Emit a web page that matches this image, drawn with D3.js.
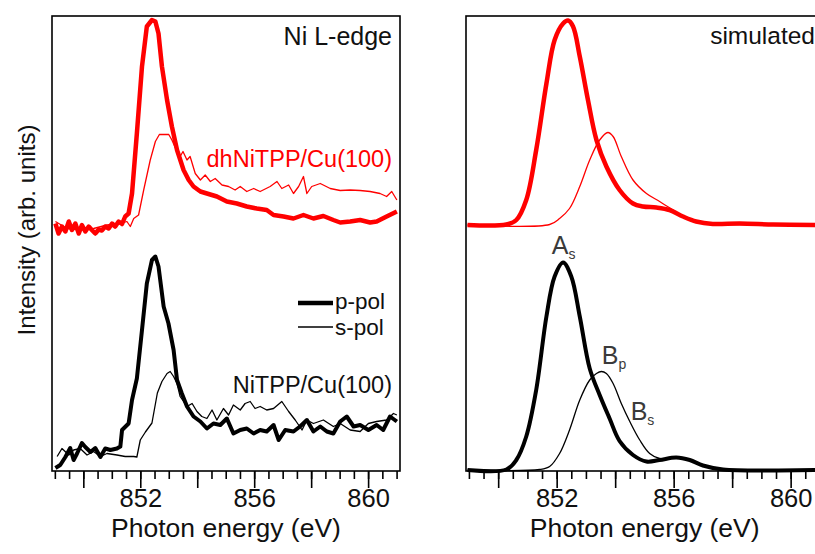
<!DOCTYPE html>
<html>
<head>
<meta charset="utf-8">
<script src="https://cdn.jsdelivr.net/npm/d3@7"></script>
<style>
  body { margin: 0; background: #fff; }
  svg { display: block; }
</style>
</head>
<body>
<div id="chart"></div>
<script>
// measured Ni L-edge spectra: photon energy (eV) / intensity (arb. units, offset included)
var dhP_E = [849.02,849.13,849.25,849.37,849.49,849.60,849.72,849.84,849.95,850.07,850.19,850.30,850.42,850.54,850.65,850.77,850.89,851.01,851.12,851.24,851.36,851.47,851.59,851.71,851.88,852.06,852.23,852.41,852.53,852.64,852.76,852.94,853.11,853.29,853.52,853.70,853.87,854.11,854.34,854.69,855.04,855.39,855.74,856.09,856.44,856.68,857.03,857.38,857.73,858.08,858.43,858.78,859.02,859.37,859.72,860.07,860.30,860.65,861.01];
var dhP_I = [49.5,47.5,48.9,47.9,49.9,48.2,49.5,47.5,49.2,47.9,48.9,48.2,47.5,48.3,48.1,48.9,48.5,49.5,48.9,49.9,49.4,50.9,51.5,55.5,67.5,80.9,88.9,90.2,89.9,87.5,80.9,74.2,68.9,64.2,60.2,58.2,56.9,55.9,55.5,54.9,53.9,53.5,52.9,52.5,52.2,51.2,50.9,50.5,51.2,50.5,51.0,50.2,49.7,49.9,50.2,49.7,49.9,50.9,51.9];

var dhS_E = [849.02,849.43,849.89,850.36,850.83,851.30,851.53,851.65,851.77,851.94,852.12,852.35,852.53,852.67,853.00,853.11,853.29,853.40,853.50,853.64,853.75,853.93,854.11,854.28,854.46,854.63,854.87,855.10,855.33,855.51,855.74,855.98,856.21,856.56,856.80,856.97,857.21,857.38,857.56,857.73,857.85,858.02,858.32,858.67,859.02,859.37,859.72,860.07,860.42,860.65,860.83,861.01];
var dhS_I = [49.9,48.5,48.2,48.5,49.2,49.5,49.9,48.9,50.5,51.2,56.2,62.2,65.9,67.3,67.3,66.2,63.9,62.9,63.9,62.2,62.9,59.5,58.2,59.2,57.9,58.5,57.2,56.9,56.2,56.9,55.9,56.5,55.9,56.9,57.9,56.5,57.2,55.5,56.9,58.9,55.5,56.9,57.5,56.5,56.1,56.2,56.1,55.9,55.5,54.9,55.9,54.2];

var niP_E = [849.02,849.19,849.37,849.54,849.66,849.78,849.95,850.07,850.25,850.42,850.60,850.77,850.95,851.18,851.30,851.36,851.59,851.71,851.88,852.06,852.23,852.41,852.53,852.64,852.82,852.99,853.17,853.29,853.46,853.64,853.87,854.11,854.34,854.57,854.81,855.04,855.27,855.51,855.74,855.98,856.21,856.44,856.68,856.86,857.09,857.38,857.61,857.85,858.08,858.32,858.55,858.78,859.02,859.25,859.49,859.72,860.01,860.30,860.53,860.77,861.01];
var niP_I = [0.6,1.2,2.8,4.6,2.2,3.5,5.6,4.8,3.8,4.6,2.8,4.5,4.2,4.5,4.9,8.2,9.5,14.2,18.5,28.2,37.5,42.2,42.9,40.9,32.9,29.5,24.2,18.2,15.5,12.9,10.9,9.9,8.5,9.5,9.2,10.5,7.5,8.2,8.5,7.5,8.2,7.9,9.2,6.2,8.2,7.9,8.9,10.2,7.9,8.9,7.9,7.5,9.9,10.9,8.9,9.2,8.2,9.2,8.2,10.9,9.9];

var niS_E = [849.08,849.25,849.49,849.66,849.89,850.13,850.36,850.60,850.83,851.18,851.47,851.77,851.88,852.00,852.18,852.41,852.60,852.76,852.94,853.05,853.17,853.29,853.40,853.64,853.82,853.99,854.16,854.34,854.52,854.69,854.92,855.10,855.27,855.51,855.68,855.86,856.03,856.21,856.44,856.68,856.97,857.21,857.44,857.68,857.85,858.08,858.43,858.78,859.02,859.37,859.72,860.01,860.30,860.65,860.89,861.01];
var niS_I = [2.9,4.5,3.2,4.2,4.5,3.2,3.9,2.9,3.5,3.2,2.9,2.9,2.8,6.2,7.8,9.6,15.6,17.9,19.5,19.9,18.9,17.5,14.9,12.9,13.5,11.9,10.9,10.5,12.2,10.2,12.5,11.2,13.2,12.2,13.5,13.9,12.5,12.9,12.2,12.5,13.9,11.9,10.2,8.2,10.2,9.5,10.2,8.9,9.5,8.2,7.9,9.5,9.9,10.2,11.5,11.2];

// simulated spectra
var simRedP_E = [848.95,850.28,850.62,850.96,851.30,851.65,851.93,852.22,852.39,852.56,852.79,853.07,853.36,853.70,854.15,854.61,854.95,855.41,855.86,856.32,856.77,857.34,858.26,859.40,860.82,861.12];
var simRedP_I = [49.2,49.3,50.2,54.2,64.2,77.5,86.2,89.5,90.1,88.9,82.9,74.2,66.2,60.9,56.2,53.5,52.9,52.7,52.2,50.9,49.9,49.4,49.5,49.3,49.2,49.2];
var simRedS_E = [848.95,851.76,852.10,852.44,852.79,853.13,853.47,853.75,853.93,854.21,854.61,855.07,855.52,855.98,856.43,857.12,858.26,860.82,861.12];
var simRedS_I = [49.2,49.3,50.5,52.5,56.9,62.2,66.2,67.7,66.9,62.9,58.2,55.5,53.9,52.2,50.5,49.5,49.3,49.2,49.2];
var simBlkP_E = [848.95,850.28,850.62,850.96,851.30,851.65,851.93,852.22,852.50,852.79,853.13,853.47,853.81,854.15,854.61,855.07,855.52,856.09,856.55,857.00,857.69,860.82,861.12];
var simBlkP_I = [0.2,0.3,2.2,6.9,16.2,30.9,38.9,41.7,38.9,30.9,20.5,15.2,10.5,6.0,3.2,1.9,2.2,2.7,2.2,1.1,0.3,0.2,0.2];
var simBlkS_E = [848.95,851.42,851.76,852.10,852.44,852.79,853.13,853.36,853.53,853.70,853.93,854.21,854.50,854.84,855.18,855.52,856.09,856.55,857.00,857.69,860.82,861.12];
var simBlkS_I = [0.2,0.3,0.9,3.5,8.2,14.2,18.2,19.5,19.9,19.5,17.5,13.5,9.9,6.2,3.5,2.5,2.7,2.2,1.1,0.3,0.2,0.2];

var majorTicks = [850, 852, 854, 856, 858, 860];
var tickLabels = [852, 856, 860];
var minorTicks = d3.range(1698, 1723).map(function (d) { return d / 2; });

var W = 815, H = 554;
var red = "#ff0000";
var font = "'Liberation Sans', Arial, sans-serif";

var svg = d3.select("#chart").append("svg")
  .attr("width", W)
  .attr("height", H)
  .style("font-family", font);

var y = d3.scaleLinear().domain([0, 91]).range([471, 16]);

function toPts(E, I) {
  return E.map(function (e, i) { return [e, I[i]]; });
}

function drawPanel(left, right, series, curve) {
  var x = d3.scaleLinear().domain([848.9, 861.12]).range([left, right]);
  var g = svg.append("g");

  var line = d3.line()
    .x(function (d) { return x(d[0]); })
    .y(function (d) { return y(d[1]); })
    .curve(curve);

  series.forEach(function (s) {
    g.append("path")
      .datum(toPts(s.E, s.I))
      .attr("d", line)
      .attr("fill", "none")
      .attr("stroke", s.color)
      .attr("stroke-width", s.width)
      .attr("stroke-linejoin", "round");
  });

  g.append("rect")
    .attr("x", left).attr("y", 16)
    .attr("width", right - left).attr("height", 455)
    .attr("fill", "none").attr("stroke", "#000").attr("stroke-width", 1.6);

  var minorAxis = d3.axisBottom(x).tickValues(minorTicks).tickSize(8).tickFormat("").tickSizeOuter(0);
  var majorAxis = d3.axisBottom(x).tickValues(majorTicks).tickSize(17).tickPadding(1).tickSizeOuter(0)
    .tickFormat(function (d) { return tickLabels.indexOf(d) >= 0 ? d : ""; });

  [minorAxis, majorAxis].forEach(function (ax) {
    var a = g.append("g").attr("transform", "translate(0,471)").call(ax);
    a.select(".domain").remove();
    a.selectAll("line").attr("stroke-width", 1.6);
    a.selectAll("text").attr("font-size", 25.5).attr("font-family", font).attr("fill", "#111");
  });

  g.append("text")
    .attr("x", (left + right) / 2).attr("y", 537)
    .attr("text-anchor", "middle")
    .attr("font-size", 26.5).attr("fill", "#111")
    .text("Photon energy (eV)");

  return { x: x, g: g };
}

// left: measured
var L = drawPanel(52, 400, [
  { E: dhS_E, I: dhS_I, color: red, width: 1.3 },
  { E: dhP_E, I: dhP_I, color: red, width: 4.5 },
  { E: niS_E, I: niS_I, color: "#000", width: 1.3 },
  { E: niP_E, I: niP_I, color: "#000", width: 4 }
], d3.curveLinear);

L.g.append("text").attr("x", 392).attr("y", 45).attr("text-anchor", "end")
  .attr("font-size", 25).attr("fill", "#111").text("Ni L-edge");
L.g.append("text").attr("x", 392).attr("y", 167).attr("text-anchor", "end")
  .attr("font-size", 23.5).attr("fill", red).text("dhNiTPP/Cu(100)");
L.g.append("text").attr("x", 392).attr("y", 393).attr("text-anchor", "end")
  .attr("font-size", 23.5).attr("fill", "#111").text("NiTPP/Cu(100)");

// legend
var legend = [{ label: "p-pol", width: 4.5, y: 303, dy: 6 }, { label: "s-pol", width: 1.3, y: 327, dy: 8 }];
legend.forEach(function (d) {
  L.g.append("line").attr("x1", 298).attr("x2", 333).attr("y1", d.y).attr("y2", d.y)
    .attr("stroke", "#000").attr("stroke-width", d.width);
  L.g.append("text").attr("x", 335).attr("y", d.y + d.dy).attr("font-size", 22.5)
    .attr("fill", "#111").text(d.label);
});

// right: simulated
var R = drawPanel(466, 823.4, [
  { E: simRedS_E, I: simRedS_I, color: red, width: 1.3 },
  { E: simRedP_E, I: simRedP_I, color: red, width: 4.5 },
  { E: simBlkS_E, I: simBlkS_I, color: "#000", width: 1.3 },
  { E: simBlkP_E, I: simBlkP_I, color: "#000", width: 4 }
], d3.curveCatmullRom);

R.g.append("text").attr("x", 815).attr("y", 44).attr("text-anchor", "end")
  .attr("font-size", 24.5).attr("fill", "#111").text("simulated");

var peaks = [
  { main: "A", sub: "s", e: 851.83, i: 43.4 },
  { main: "B", sub: "p", e: 853.54, i: 21.4 },
  { main: "B", sub: "s", e: 854.53, i: 10.2 }
];
peaks.forEach(function (p) {
  var t = R.g.append("text")
    .attr("x", R.x(p.e)).attr("y", y(p.i))
    .attr("font-size", 25).attr("fill", "#3a3a3a");
  t.append("tspan").text(p.main);
  t.append("tspan").attr("font-size", 14).attr("dy", 5).text(p.sub);
});

// y title
svg.append("text")
  .attr("transform", "translate(35,230) rotate(-90)")
  .attr("text-anchor", "middle")
  .attr("font-size", 24).attr("fill", "#111")
  .text("Intensity (arb. units)");
</script>
</body>
</html>
